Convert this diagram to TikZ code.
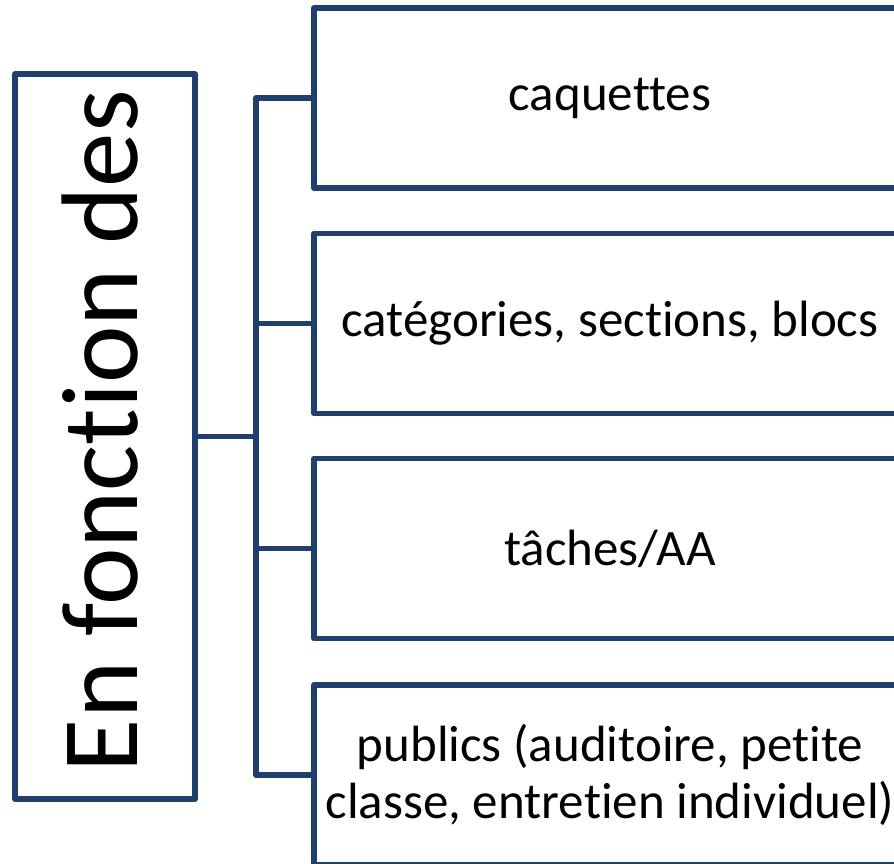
\documentclass[tikz,border=0pt]{standalone}
\usepackage{fontspec}
\setmainfont{Carlito}[Ligatures={NoCommon,NoRare,NoContextual}]
\definecolor{lineblue}{RGB}{33,63,109}
\begin{document}
\begin{tikzpicture}[x=1pt,y=-1pt,
  line width=5.5pt, line join=round,
  conn/.style={draw=lineblue},
  leftbox/.style={draw=lineblue, rectangle, minimum width=180pt, minimum height=725pt, inner sep=0pt},
  itembox/.style={draw=lineblue, rectangle, minimum width=592pt, minimum height=180pt, inner sep=0pt,
    font=\fontsize{51}{57}\selectfont, align=center, text=black},
  bigtext/.style={font=\fontsize{109}{120}\selectfont, rotate=90, anchor=base, inner sep=0pt, text=black}]
\clip (0,0) rectangle (894,863);
\node[leftbox] (L) at (105,436.5) {};
\node[bigtext] (Lt) at (137,431) {En fonction des};
\node[itembox] (b1) at (610,98) {caquettes};
\node[itembox] (b2) at (610,323.5) {catégories, sections, blocs};
\node[itembox] (b3) at (610,548.5) {tâches/AA};
\node[itembox] (b4) at (610,775) {publics (auditoire, petite\\classe, entretien individuel)};
\coordinate (sp) at (256,0);
\draw[conn] (b1.west) -- (b1.west -| sp) -- (b4.west -| sp) -- (b4.west);
\draw[conn] (b2.west) -- (b2.west -| sp);
\draw[conn] (b3.west) -- (b3.west -| sp);
\draw[conn] (L.east) -- (L.east -| sp);
\end{tikzpicture}
\end{document}
